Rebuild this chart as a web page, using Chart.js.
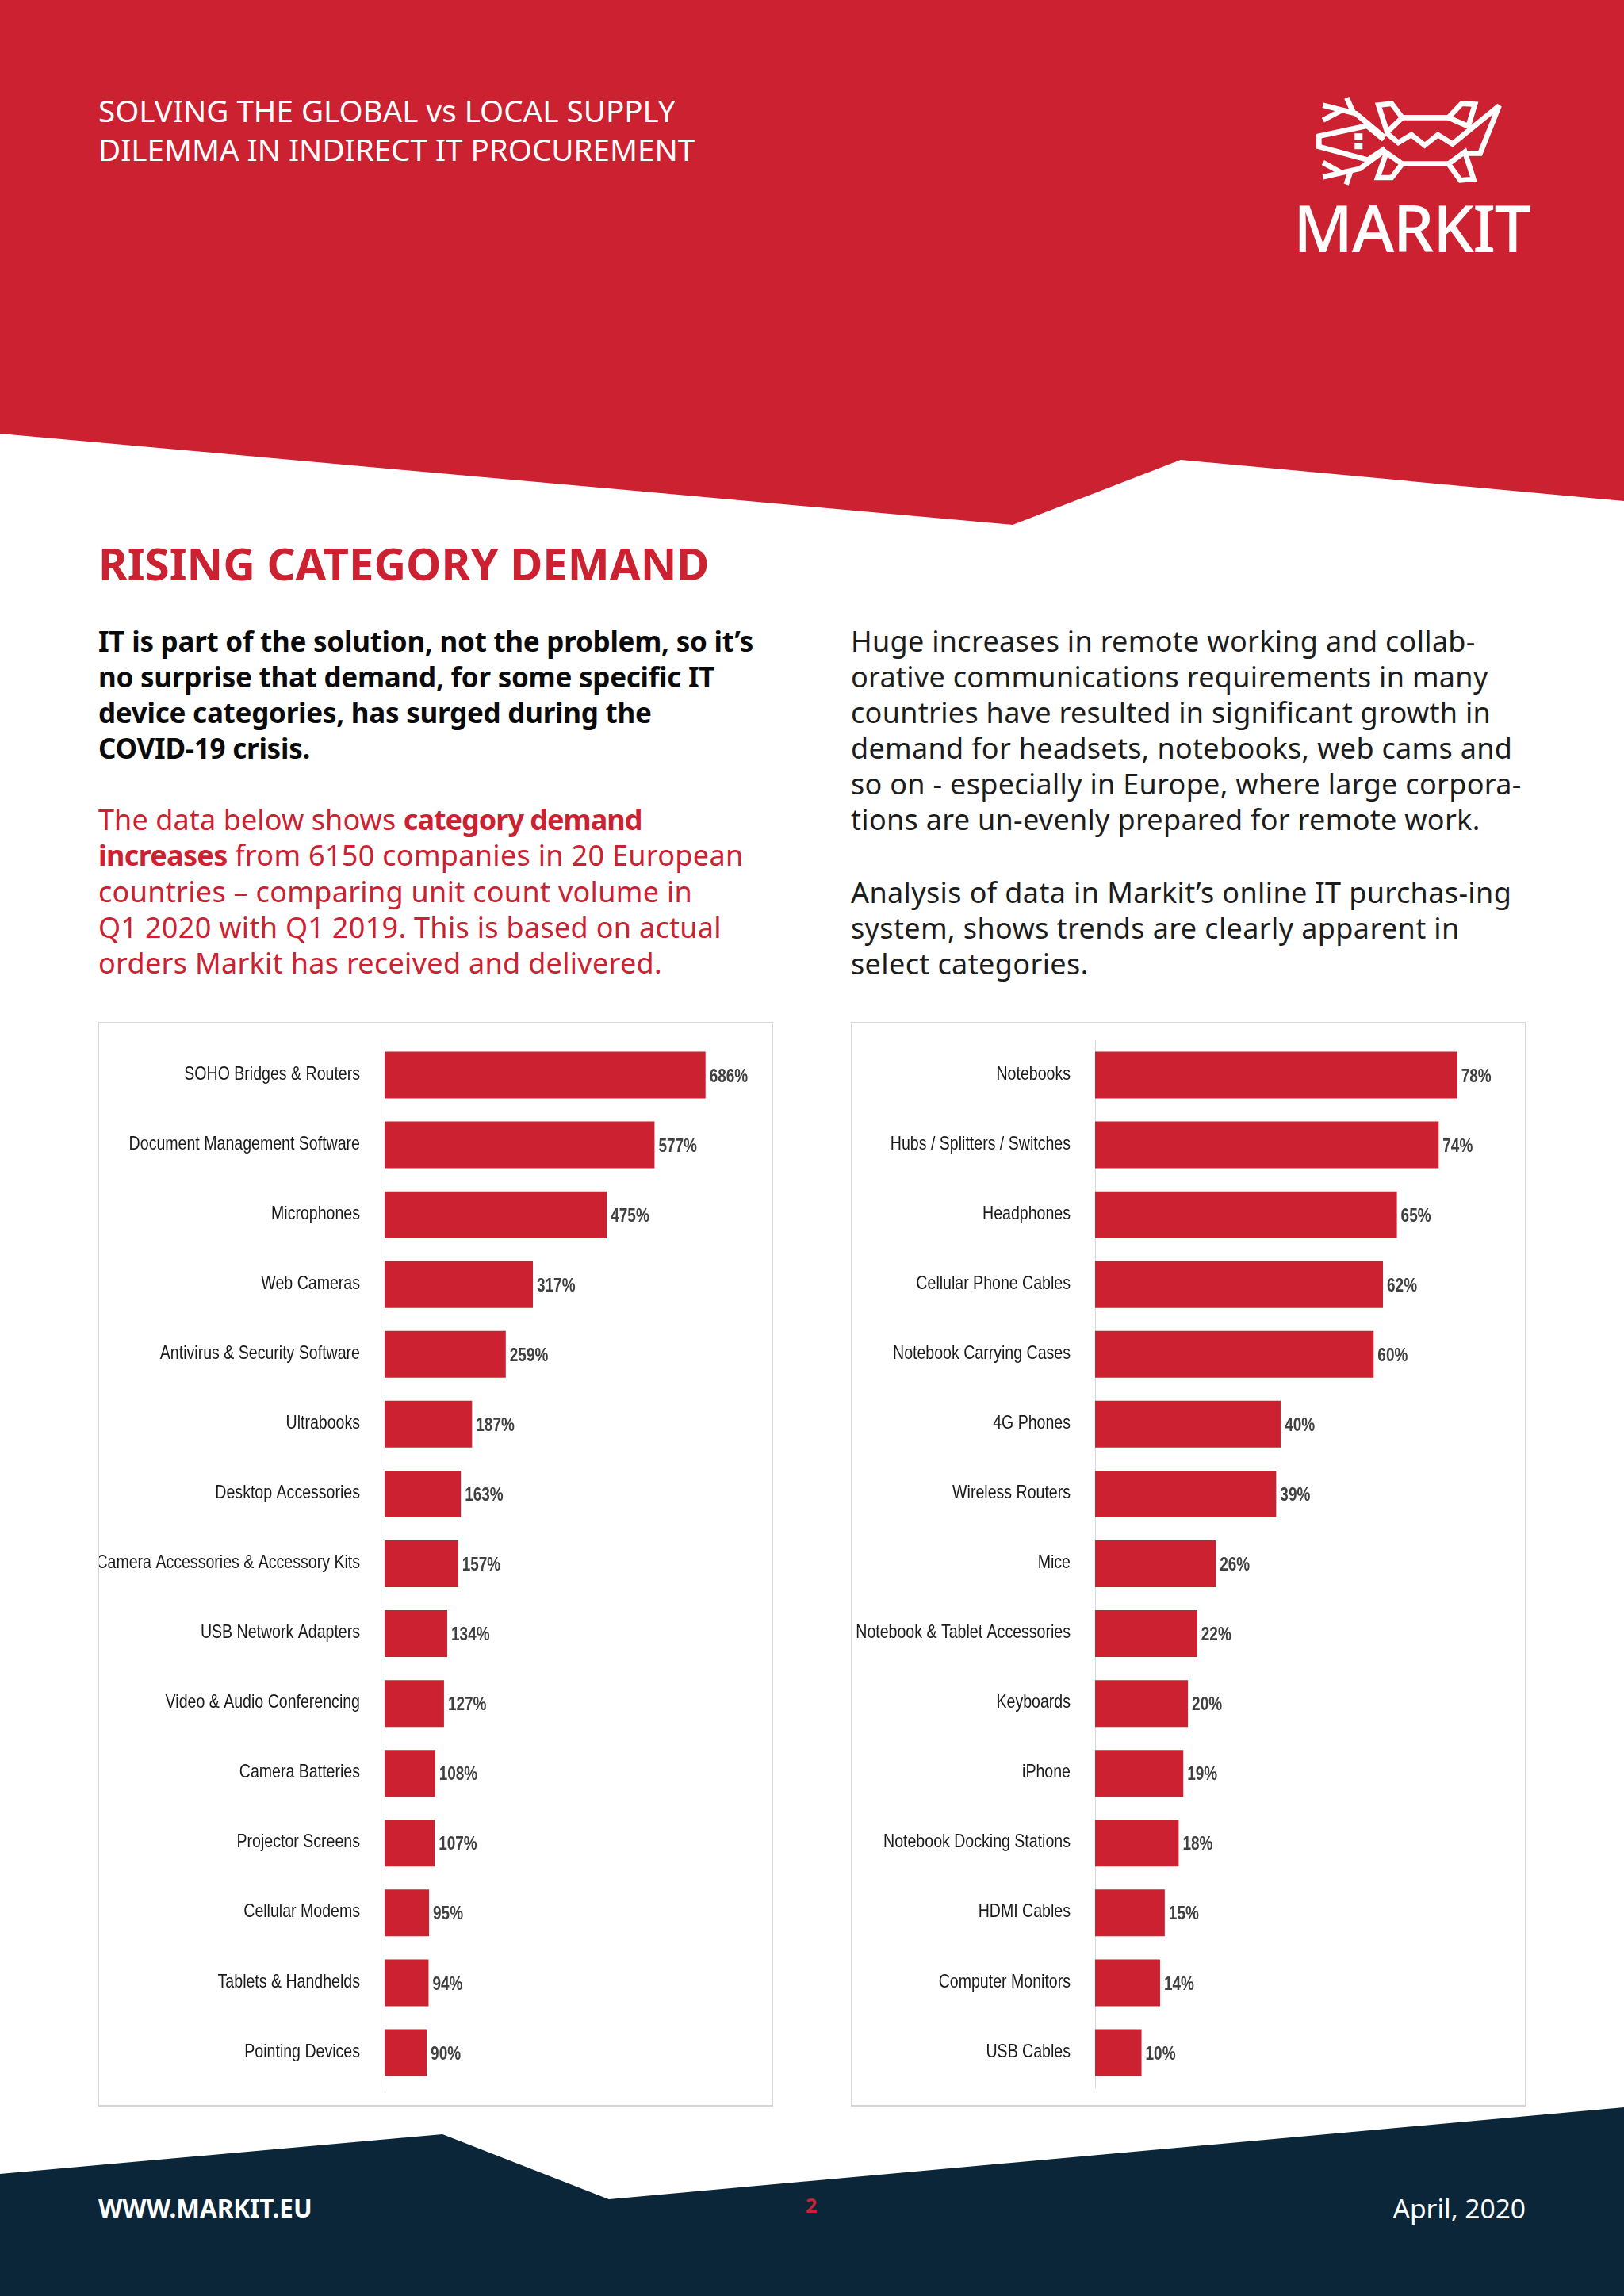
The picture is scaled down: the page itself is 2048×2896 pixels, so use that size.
<!DOCTYPE html>
<html lang="en">
<head>
<meta charset="UTF-8" />
<title>Rising category demand</title>
<script src="https://cdn.jsdelivr.net/npm/chart.js"></script>
<style>
  html, body { margin: 0; padding: 0; background: #fff; }
  body { position: relative; width: 2048px; height: 2896px; overflow: hidden; font-family: "Noto Sans", sans-serif; }
  .bg { position: absolute; left: 0; top: 0; }
  .txt { position: absolute; white-space: nowrap; margin: 0; }
  .head { left: 124px; top: 115px; font-size: 38.6px; line-height: 49px; color: #fff; }
  .logotext { left: 1631px; top: 236px; font-size: 82px; line-height: 100px; color: #fff; letter-spacing: -1.6px; font-weight: 500; }
  h2.txt { left: 124px; top: 670px; font-size: 56.2px; line-height: 80px; font-weight: 700; color: #cc2131; }
  .para { font-size: 36px; line-height: 45px; letter-spacing: 0.3px; }
  .lead { left: 124px; top: 786px; font-size: 35px; letter-spacing: -0.25px; font-weight: 700; color: #0a0a0a; }
  .redp { left: 124px; top: 1011px; line-height: 45.3px; color: #cc2131; }
  .redp b { font-weight: 700; letter-spacing: -0.7px; }
  .rightp { left: 1073px; top: 786px; color: #1c1c1c; }
  .rightq { left: 1073px; top: 1103px; letter-spacing: 0.38px; color: #1c1c1c; }
  .card { position: absolute; top: 1289px; width: 849px; height: 1365px; border: 1px solid #d9d9d9; border-bottom: 2px solid #d5d5d8; background: #fff; }
  .card canvas { position: absolute; left: 0; top: 0; }
  #cardL { left: 124px; }
  #cardR { left: 1073px; }
  .foot { top: 2765px; font-size: 31.4px; line-height: 40px; color: #fff; }
</style>
</head>
<body>
<svg class="bg" width="2048" height="2896" viewBox="0 0 2048 2896">
  <polygon points="0,0 2048,0 2048,632 1489,580 1277,662 0,547" fill="#cc2131" />
  <polygon points="0,2742 558,2692 768,2774 2048,2658 2048,2896 0,2896" fill="#0c2639" />
  <!-- logo -->
  <g transform="translate(1600,100) scale(0.3333)" fill="none" stroke="#fff" stroke-width="20" stroke-linejoin="miter">
    <path d="M435,228 L372,176 L190,215 L190,255 L375,305 L440,262" />
    <path d="M435,218 L330,130 L205,98 M205,155 L275,118 M295,70 L322,130" />
    <path d="M440,268 L345,338 L205,370 M205,315 L268,350 M293,398 L312,342" />
    <path d="M415,98 L465,92 L505,145 L448,200 Z" />
    <path d="M445,278 L505,320 L465,372 L412,372 Z" />
    <path d="M505,145 L680,145 M505,320 L680,320" />
    <path d="M680,145 L730,92 L780,95 L755,178 Z" />
    <path d="M680,320 L742,275 L775,378 L725,382 Z" />
    <path d="M448,205 L490,240 L540,210 L590,250 L640,210 L695,245 L872,100 L800,280 L745,280" />
    <path d="M325,205 h30 v25 h-30 Z M325,240 h30 v25 h-30 Z" fill="#fff" stroke="none" />
  </g>
</svg>

<div class="txt head">SOLVING THE GLOBAL vs LOCAL SUPPLY<br />DILEMMA IN INDIRECT IT PROCUREMENT</div>
<div class="txt logotext">MARKIT</div>

<h2 class="txt">RISING CATEGORY DEMAND</h2>
<p class="txt para lead">IT is part of the solution, not the problem, so it’s<br />no surprise that demand, for some specific IT<br />device categories, has surged during the<br />COVID-19 crisis.</p>
<p class="txt para redp"><span style="letter-spacing:0.1px">The data below shows </span><b style="letter-spacing:-1px">category demand</b><br /><b>increases</b> from 6150 companies in 20 European<br />countries – comparing unit count volume in<br />Q1 2020 with Q1 2019. This is based on actual<br />orders Markit has received and delivered.</p>
<p class="txt para rightp">Huge increases in remote working and collab-<br />orative communications requirements in many<br />countries have resulted in significant growth in<br />demand for headsets, notebooks, web cams and<br />so on - especially in Europe, where large corpora-<br />tions are un-evenly prepared for remote work.</p>
<p class="txt para rightq">Analysis of data in Markit’s online IT purchas-ing<br />system, shows trends are clearly apparent in<br />select categories.</p>

<div class="card" id="cardL"><canvas id="chartL" width="851" height="1367"></canvas></div>
<div class="card" id="cardR"><canvas id="chartR" width="851" height="1367"></canvas></div>

<div class="txt foot" style="left:124px;font-weight:700;">WWW.MARKIT.EU</div>
<div class="txt foot" style="left:1016px;top:2761px;font-size:25px;color:#cc2131;font-weight:700;">2</div>
<div class="txt foot" style="right:124px;font-size:33.5px;">April, 2020</div>

<script>
const leftCategories = ["SOHO Bridges & Routers", "Document Management Software", "Microphones", "Web Cameras",
  "Antivirus & Security Software", "Ultrabooks", "Desktop Accessories", "Camera Accessories & Accessory Kits",
  "USB Network Adapters", "Video & Audio Conferencing", "Camera Batteries", "Projector Screens",
  "Cellular Modems", "Tablets & Handhelds", "Pointing Devices"];
const leftValues = [686, 577, 475, 317, 259, 187, 163, 157, 134, 127, 108, 107, 95, 94, 90];

const rightCategories = ["Notebooks", "Hubs / Splitters / Switches", "Headphones", "Cellular Phone Cables",
  "Notebook Carrying Cases", "4G Phones", "Wireless Routers", "Mice", "Notebook & Tablet Accessories",
  "Keyboards", "iPhone", "Notebook Docking Stations", "HDMI Cables", "Computer Monitors", "USB Cables"];
const rightValues = [78, 74, 65, 62, 60, 40, 39, 26, 22, 20, 19, 18, 15, 14, 10];

const FONT = '"Liberation Sans", sans-serif';

// no narrow font here, so the labels are squeezed sideways by hand
const squeezedLabels = {
  id: "squeezedLabels",
  afterDatasetsDraw(chart) {
    const { ctx } = chart;
    const yScale = chart.scales.y;
    ctx.save();
    ctx.textBaseline = "middle";
    chart.data.labels.forEach((label, i) => {
      ctx.save();
      ctx.translate(yScale.right - 31, yScale.getPixelForTick(i) - 1);
      ctx.scale(0.815, 1);
      ctx.font = "24px " + FONT;
      ctx.fillStyle = "#1a1a1a";
      ctx.textAlign = "right";
      ctx.fillText(label, 0, 0);
      ctx.restore();
    });
    chart.getDatasetMeta(0).data.forEach((bar, i) => {
      ctx.save();
      ctx.translate(bar.x + 5, bar.y + 2);
      ctx.scale(0.79, 1);
      ctx.font = "bold 24px " + FONT;
      ctx.fillStyle = "#404040";
      ctx.textAlign = "left";
      ctx.fillText(chart.data.datasets[0].data[i] + "%", 0, 0);
      ctx.restore();
    });
    ctx.restore();
  }
};

function makeChart(id, labels, values, max, axisLeft, padRight) {
  return new Chart(document.getElementById(id), {
    type: "bar",
    data: {
      labels: labels,
      datasets: [{
        data: values,
        backgroundColor: "#cc2131",
        categoryPercentage: 1,
        barPercentage: 0.67
      }]
    },
    options: {
      indexAxis: "y",
      responsive: false,
      animation: false,
      layout: { autoPadding: false, padding: { top: 22, bottom: 24, left: 0, right: padRight } },
      plugins: { legend: { display: false }, tooltip: { enabled: false } },
      scales: {
        x: { display: false, min: 0, max: max },
        y: {
          afterFit(scale) { scale.width = axisLeft; },
          grid: { display: false, drawTicks: false },
          border: { display: true, color: "#d9d9d9", width: 1 },
          ticks: { display: false }
        }
      }
    },
    plugins: [squeezedLabels]
  });
}

makeChart("chartL", leftCategories, leftValues, 800, 360, 19);
makeChart("chartR", rightCategories, rightValues, 90, 307, 17);
</script>
</body>
</html>
